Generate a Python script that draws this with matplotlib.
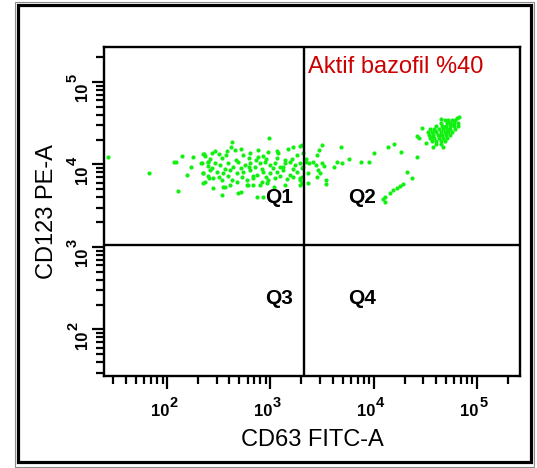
import matplotlib
matplotlib.use('Agg')
import matplotlib.pyplot as plt
import numpy as np
from matplotlib.ticker import LogLocator, FixedLocator, NullFormatter
from matplotlib.patches import Rectangle
from matplotlib.transforms import blended_transform_factory, ScaledTranslation

# ---------------- data (log10 fluorescence) ----------------
# resting basophils: CD123 high, CD63 low (Q1 smear, with a little spill into Q2)
rest_cd63_log = [
    1.42, 1.82, 2.06, 2.08, 2.14, 2.25, 2.23, 2.19, 2.10, 2.33, 2.35, 2.37, 2.39, 2.39, 2.35, 2.40, 2.35,
    2.99, 2.63, 2.62, 2.36, 2.43, 2.50, 2.58, 2.57, 2.71, 2.73, 2.80, 2.88, 2.93, 2.98, 3.07, 3.17, 3.22, 3.29, 3.26, 3.32,
    2.34, 2.39, 2.46, 2.51, 2.59, 2.64, 2.69, 2.75, 2.80, 2.85, 2.90, 2.95, 3.00, 3.04, 3.09, 3.14, 3.19, 3.24, 3.29, 3.34,
    2.35, 2.41, 2.48, 2.54, 2.61, 2.68, 2.73, 2.80, 2.87, 2.93, 3.00, 3.06, 3.12, 3.19, 3.26,
    2.37, 2.44, 2.53, 2.63, 2.68, 2.77, 2.83, 2.92, 2.98, 3.04, 3.16, 3.29,
    2.44, 2.54, 2.71, 2.83, 2.97, 3.03, 3.29, 2.56, 2.69, 2.78, 2.53, 2.87, 2.93, 3.29, 3.31,
    2.41, 2.53, 2.67, 2.79, 2.86, 2.96, 3.06, 3.14, 3.21,
    2.43, 2.56, 2.71, 2.79, 2.92, 3.02, 3.12, 3.22, 3.31,
    2.39, 2.50, 2.59, 2.72, 2.83, 2.96, 3.09, 3.22,
    2.61, 2.77, 2.90, 3.14,
    2.46, 2.66, 2.88, 3.06,
    3.31, 3.50, 3.47, 3.45, 3.34, 3.37, 3.41, 3.44, 3.50, 3.52, 3.46, 3.48, 3.32, 3.36, 3.31, 3.36, 3.45, 3.54, 3.54,
]
rest_cd123_log = [
    4.09, 3.90, 4.03, 4.03, 4.10, 4.09, 3.97, 3.87, 3.68, 4.02, 4.13, 4.10, 4.03, 3.98, 3.90, 3.84, 3.78,
    4.32, 4.27, 4.21, 4.13, 4.14, 4.13, 4.16, 4.12, 4.19, 4.12, 4.14, 4.09, 4.10, 4.15, 4.14, 4.19, 4.21, 4.22, 4.12, 4.14,
    4.02, 4.03, 4.02, 3.99, 4.02, 3.97, 4.03, 3.99, 4.02, 3.97, 4.02, 4.03, 3.99, 4.02, 3.97, 4.02, 4.03, 3.99, 4.02, 4.03,
    3.90, 3.93, 3.91, 3.90, 3.93, 3.90, 3.91, 3.93, 3.87, 3.91, 3.90, 3.91, 3.93, 3.87, 3.91,
    3.79, 3.84, 3.81, 3.81, 3.79, 3.81, 3.84, 3.79, 3.81, 3.84, 3.82, 3.81,
    3.72, 3.73, 3.67, 3.75, 3.78, 3.73, 3.75, 3.73, 3.65, 3.75, 3.63, 3.61, 3.61, 3.84, 3.78,
    4.07, 4.08, 4.05, 4.08, 4.05, 4.07, 4.08, 4.05, 4.07,
    3.96, 3.95, 3.96, 3.97, 3.95, 3.96, 3.97, 3.95, 3.96,
    3.86, 3.85, 3.86, 3.85, 3.86, 3.85, 3.86, 3.85,
    3.75, 3.75, 3.75, 3.75,
    4.16, 4.18, 4.18, 4.16,
    4.24, 4.24, 4.18, 4.12, 4.07, 4.02, 4.03, 3.99, 4.02, 3.98, 3.93, 3.90, 3.97, 3.90, 3.85, 3.78, 3.85, 3.81, 3.76,
]

# activated basophils: CD63 rising (trail + bright cluster in Q2)
act_cd63_log = [
    3.68, 3.65, 3.69, 3.62, 3.76, 3.88, 3.96, 4.00, 4.14, 4.20, 4.27, 4.42, 4.32, 4.37, 4.29, 4.26, 4.23, 4.19, 4.16, 4.11, 4.09, 4.11,
    4.47, 4.42, 4.44, 4.51, 4.58, 4.67, 4.65, 4.69, 4.81, 4.83,
    4.72, 4.76, 4.79,
    4.65, 4.71, 4.74, 4.78, 4.82,
    4.61, 4.66, 4.70, 4.74, 4.78, 4.82,
    4.55, 4.59, 4.63, 4.67, 4.71, 4.74, 4.79,
    4.53, 4.57, 4.61, 4.65, 4.69, 4.72, 4.76,
    4.54, 4.58, 4.62, 4.66, 4.70, 4.74,
    4.55, 4.59, 4.63, 4.67, 4.71,
    4.57, 4.61, 4.65, 4.69,
    4.61, 4.65,
    4.60, 4.68, 4.72, 4.64, 4.75, 4.56,
]
act_cd123_log = [
    4.21, 4.03, 4.02, 3.97, 4.07, 4.03, 4.03, 4.14, 4.21, 4.25, 4.15, 4.09, 3.91, 3.84, 3.76, 3.74, 3.72, 3.69, 3.65, 3.61, 3.58, 3.55,
    4.44, 4.35, 4.32, 4.26, 4.21, 4.21, 4.55, 4.54, 4.56, 4.58,
    4.54, 4.54, 4.54,
    4.50, 4.50, 4.50, 4.50, 4.50,
    4.47, 4.47, 4.47, 4.47, 4.47, 4.47,
    4.43, 4.43, 4.43, 4.43, 4.43, 4.43, 4.43,
    4.39, 4.39, 4.39, 4.39, 4.39, 4.39, 4.39,
    4.36, 4.36, 4.36, 4.36, 4.36, 4.36,
    4.32, 4.32, 4.32, 4.32, 4.32,
    4.28, 4.28, 4.28, 4.28,
    4.25, 4.25,
    4.41, 4.46, 4.41, 4.36, 4.48, 4.33,
]

gate_cd63 = 2130
gate_cd123 = 1070
decade_exponents = [2, 3, 4, 5]
quad_labels = ['Q1', 'Q2', 'Q3', 'Q4']
title_text = 'Aktif bazofil %40'

# ---------------- style ----------------
plt.rcParams['font.family'] = ['Liberation Sans', 'DejaVu Sans']

W, H = 537, 468
fig = plt.figure(figsize=(W / 100, H / 100), dpi=100)
ax = fig.add_axes([104 / W, 1 - 376 / H, 416 / W, 329 / H])
ax.set_xscale('log')
ax.set_yscale('log')
ax.set_xlim(10 ** 1.386, 10 ** 5.42)
ax.set_ylim(10 ** 1.436, 10 ** 5.424)

green = '#12f012'
ax.scatter(10 ** np.array(rest_cd63_log), 10 ** np.array(rest_cd123_log), s=9, c=green, linewidths=0, zorder=3)
ax.scatter(10 ** np.array(act_cd63_log), 10 ** np.array(act_cd123_log), s=9, c=green, linewidths=0, zorder=3)

ax.axvline(gate_cd63, color='black', lw=1.7, zorder=4)
ax.axhline(gate_cd123, color='black', lw=1.7, zorder=4)

for sp in ax.spines.values():
    sp.set_linewidth(1.7)

decades = [10.0 ** e for e in decade_exponents]
for axis in (ax.xaxis, ax.yaxis):
    axis.set_major_locator(FixedLocator(decades))
    axis.set_minor_locator(LogLocator(base=10, subs=np.arange(2, 10)))
    axis.set_minor_formatter(NullFormatter())
ax.set_xticklabels([''] * len(decades))
ax.set_yticklabels([''] * len(decades))
ax.tick_params(which='major', direction='out', length=9, width=1.6)
ax.tick_params(which='minor', direction='out', length=6, width=1.6)

# decade labels "10" + raised exponent, as in the cytometer software
px = 1 / 100.0
tx = blended_transform_factory(ax.transData, ax.transAxes)
ty = blended_transform_factory(ax.transAxes, ax.transData)
for e, d in zip(decade_exponents, decades):
    ax.text(d, 0, '10', transform=tx + ScaledTranslation(2 * px, -40 * px, fig.dpi_scale_trans),
            fontsize=12, fontweight='bold', ha='right', va='baseline', clip_on=False)
    ax.text(d, 0, str(e), transform=tx + ScaledTranslation(2.5 * px, -31 * px, fig.dpi_scale_trans),
            fontsize=10.5, fontweight='bold', ha='left', va='baseline', clip_on=False)
    ax.text(0, d, '10', transform=ty + ScaledTranslation(-17 * px, -1 * px, fig.dpi_scale_trans),
            fontsize=12, fontweight='bold', ha='right', va='baseline', rotation=90,
            rotation_mode='anchor', clip_on=False)
    ax.text(0, d, str(e), transform=ty + ScaledTranslation(-27 * px, -0.5 * px, fig.dpi_scale_trans),
            fontsize=10.5, fontweight='bold', ha='left', va='baseline', rotation=90,
            rotation_mode='anchor', clip_on=False)

ax.set_xlabel('CD63 FITC-A', fontsize=17)
ax.xaxis.label.set_va('baseline')
ax.xaxis.set_label_coords(0.5, (376 - 446) / 329)
ax.set_ylabel('CD123 PE-A', fontsize=17)
ax.yaxis.label.set_rotation_mode('anchor')
ax.yaxis.label.set_va('baseline')
ax.yaxis.label.set_ha('center')
ax.yaxis.set_label_coords((53 - 104) / 416, 0.5)

qpos = [(0.422, 0.544), (0.620, 0.544), (0.422, 0.237), (0.620, 0.237)]
for (qx, qy), lab in zip(qpos, quad_labels):
    ax.text(qx, qy, lab, transform=ax.transAxes, fontsize=15, fontweight='bold',
            ha='center', va='center', zorder=5)

ax.text(0.490, 0.938, title_text, transform=ax.transAxes, fontsize=17, color='#cc0000',
        ha='left', va='center', zorder=5)

# outer double frame
fig.add_artist(Rectangle((14.5 / W, 1 - 466.5 / H), (534 - 14.5) / W, (466.5 - 1.5) / H,
                         transform=fig.transFigure, fill=False, lw=0.8, ec='#8a8a8a'))
fig.add_artist(Rectangle((18 / W, 1 - 462 / H), (531 - 18) / W, (462 - 4.5) / H,
                         transform=fig.transFigure, fill=False, lw=2.3, ec='black'))

fig.savefig('out.png', dpi=100)
